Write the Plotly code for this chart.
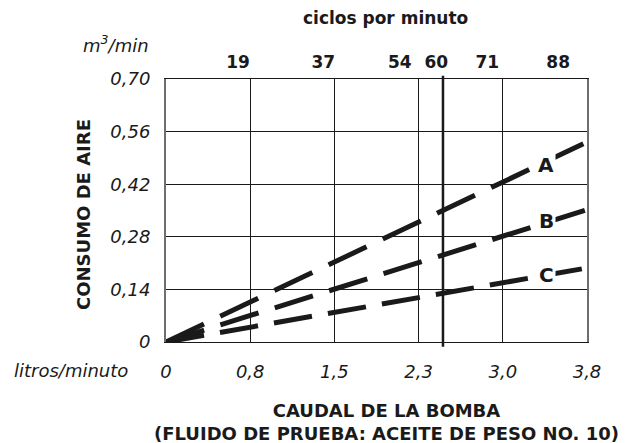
import plotly.graph_objects as go

# ---- data ----
flow_lpm = [0.0, 3.8]                      # caudal de la bomba (litros/minuto)
air_A = [0.0, 0.532]                        # consumo de aire (m3/min), curva A
air_B = [0.0, 0.352]                        # curva B
air_C = [0.0, 0.197]                        # curva C

x_tick_vals = [0.0, 0.76, 1.52, 2.28, 3.04, 3.8]
x_tick_text = ["0", "0,8", "1,5", "2,3", "3,0", "3,8"]
y_tick_vals = [0.0, 0.14, 0.28, 0.42, 0.56, 0.70]
y_tick_text = ["0", "0,14", "0,28", "0,42", "0,56", "0,70"]
cycles = ["19", "37", "54", "60", "71", "88"]
cycle_flow = [0.65, 1.42, 2.11, 2.44, 2.90, 3.54]
marker_flow_60 = 2.50                       # 60 ciclos por minuto
label_flow = 3.43
label_names = ["A", "B", "C"]
label_air = [0.471, 0.321, 0.178]

FONT = "DejaVu Sans"
INK = "#1a1a1a"

# page body has an 8px margin: shrink the figure so it fits the window
OFF = 8
L, T, PW, PH = 166 - OFF, 79 - OFF, 421, 263

fig = go.Figure()
dashes = ["42px,18px", "40px,17px", "38.6px,16.2px"]
for vals, dash in zip([air_A, air_B, air_C], dashes):
    fig.add_trace(go.Scatter(x=flow_lpm, y=vals, mode="lines",
                             line=dict(color=INK, width=5, dash=dash),
                             showlegend=False, hoverinfo="skip"))

# invisible trace for top axis
fig.add_trace(go.Scatter(x=flow_lpm, y=[0, 0], xaxis="x2", mode="lines",
                         line=dict(width=0), showlegend=False, hoverinfo="skip"))

fig.update_layout(
    width=644 - OFF, height=443 - OFF,
    margin=dict(l=L, r=644 - OFF - L - PW, t=T, b=443 - OFF - T - PH, autoexpand=False),
    paper_bgcolor="white", plot_bgcolor="white",
    font=dict(family=FONT, color=INK),
    xaxis=dict(range=[0, 3.8], tickvals=x_tick_vals, ticktext=x_tick_text,
               showgrid=True, gridcolor=INK, gridwidth=1.3, zeroline=False,
               showline=True, linecolor=INK, linewidth=1.3, mirror=True,
               ticks="", ticklabelstandoff=13, automargin=False,
               tickfont=dict(family=FONT, size=18, style="italic")),
    xaxis2=dict(range=[0, 3.8], overlaying="x", side="top",
                tickvals=cycle_flow, ticktext=cycles, showgrid=False,
                zeroline=False, showline=False, ticks="", ticklabelstandoff=7,
                automargin=False,
                tickfont=dict(family=FONT, size=17, weight="bold")),
    yaxis=dict(range=[0, 0.70], tickvals=y_tick_vals, ticktext=y_tick_text,
               showgrid=True, gridcolor=INK, gridwidth=1.3, zeroline=False,
               showline=True, linecolor="#6e6e6e", linewidth=2, mirror=True,
               ticks="", ticklabelstandoff=10, automargin=False,
               tickfont=dict(family=FONT, size=18, style="italic")),
)

fig.add_shape(type="line", xref="x", yref="paper",
              x0=marker_flow_60, x1=marker_flow_60, y0=-0.018, y1=1.012,
              line=dict(color=INK, width=2.5), layer="below")

for name, yv in zip(label_names, label_air):
    fig.add_annotation(x=label_flow, y=yv, xref="x", yref="y", text="<b>%s</b>" % name,
                       showarrow=False, bgcolor="white", borderpad=1,
                       xanchor="center", yanchor="middle",
                       font=dict(family=FONT, size=20, color=INK))

def px(xp):
    return (xp - 166) / PW

def py(yp):
    return (342 - yp) / PH

def note(xp, yp, text, xanchor="center", angle=0, size=18):
    fig.add_annotation(x=px(xp), y=py(yp), xref="paper", yref="paper",
                       xanchor=xanchor, yanchor="middle", textangle=angle,
                       text=text, showarrow=False,
                       font=dict(family=FONT, size=size, color=INK))

note(385, 18, "<b>ciclos por minuto</b>", size=17)
note(151, 44, "<i>m<sup>3</sup>/min</i>", xanchor="right")
note(83, 215, "<b>CONSUMO DE AIRE</b>", angle=-90)
note(12, 370, "<i>litros/minuto</i>", xanchor="left")
note(386, 422, "<b>CAUDAL DE LA BOMBA<br>(FLUIDO DE PRUEBA: ACEITE DE PESO NO. 10)</b>")

fig.write_html("out.html")
